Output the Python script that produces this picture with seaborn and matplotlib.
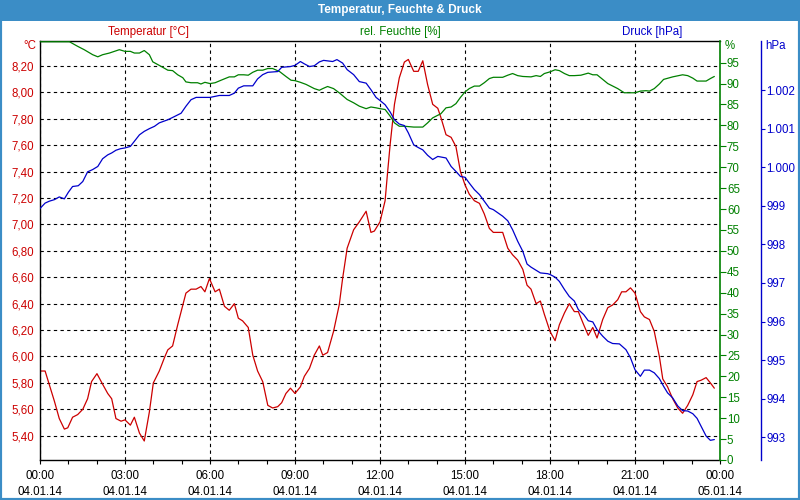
import numpy as np
import pandas as pd
import matplotlib
matplotlib.use("Agg")
import matplotlib.pyplot as plt
import seaborn as sns
from matplotlib.ticker import FixedLocator, FuncFormatter
from matplotlib.patches import Rectangle

# ---------------- data (hours since 04.01.14 00:00) ----------------
temp_t = [0.00, 0.18, 0.51, 0.68, 0.86, 0.98, 1.15, 1.33, 1.51, 1.68, 1.82, 2.01, 2.21, 2.39, 2.53, 2.68,
          2.86, 3.00, 3.19, 3.33, 3.51, 3.68, 3.86, 4.00, 4.21, 4.39, 4.51, 4.68, 4.86, 5.15, 5.33, 5.51,
          5.68, 5.82, 5.98, 6.18, 6.33, 6.51, 6.68, 6.86, 7.00, 7.15, 7.35, 7.51, 7.68, 7.86, 8.04, 8.21,
          8.39, 8.53, 8.68, 8.84, 9.00, 9.19, 9.33, 9.51, 9.68, 9.86, 9.98, 10.15, 10.36, 10.56, 10.68,
          10.84, 11.07, 11.27, 11.51, 11.68, 11.80, 12.00, 12.18, 12.27, 12.36, 12.51, 12.68, 12.86, 13.00,
          13.19, 13.35, 13.51, 13.68, 13.86, 14.04, 14.15, 14.33, 14.51, 14.68, 14.84, 15.00, 15.15, 15.33,
          15.51, 15.68, 15.86, 16.00, 16.33, 16.51, 16.68, 16.86, 17.04, 17.19, 17.33, 17.51, 17.66, 17.80,
          18.00, 18.18, 18.33, 18.51, 18.68, 18.86, 19.00, 19.19, 19.35, 19.51, 19.66, 19.86, 20.04, 20.21,
          20.39, 20.53, 20.68, 20.84, 21.00, 21.19, 21.33, 21.51, 21.68, 21.86, 21.98, 22.15, 22.33, 22.51,
          22.68, 22.86, 23.04, 23.19, 23.33, 23.51, 23.66, 23.80]
temp_v = [5.89, 5.89, 5.66, 5.53, 5.45, 5.46, 5.54, 5.56, 5.60, 5.68, 5.81, 5.87, 5.79, 5.72, 5.68, 5.53,
          5.51, 5.52, 5.48, 5.54, 5.42, 5.36, 5.58, 5.80, 5.89, 5.99, 6.05, 6.08, 6.24, 6.48, 6.51, 6.51,
          6.53, 6.49, 6.59, 6.49, 6.51, 6.38, 6.35, 6.40, 6.29, 6.27, 6.22, 6.01, 5.89, 5.81, 5.63, 5.61,
          5.62, 5.65, 5.72, 5.76, 5.72, 5.77, 5.85, 5.91, 6.01, 6.08, 6.01, 6.03, 6.19, 6.39, 6.59,
          6.82, 6.96, 7.02, 7.10, 6.94, 6.95, 7.02, 7.18, 7.40, 7.61, 7.91, 8.11, 8.23, 8.25,
          8.16, 8.16, 8.24, 8.06, 7.91, 7.88, 7.81, 7.68, 7.66, 7.59, 7.40, 7.30, 7.23, 7.18,
          7.16, 7.08, 6.97, 6.94, 6.94, 6.82, 6.77, 6.73, 6.66, 6.54, 6.51, 6.40, 6.42, 6.32,
          6.19, 6.12, 6.24, 6.33, 6.40, 6.34, 6.34, 6.24, 6.16, 6.22, 6.14, 6.28, 6.37, 6.39,
          6.43, 6.49, 6.49, 6.52, 6.48, 6.34, 6.30, 6.28, 6.19, 6.00, 5.83, 5.77, 5.68, 5.61,
          5.57, 5.63, 5.71, 5.81, 5.82, 5.84, 5.80, 5.76]

hum_t = [0.00, 1.04, 1.33, 1.56, 1.86, 2.04, 2.21, 2.45, 2.80, 3.00, 3.19, 3.33, 3.51, 3.68, 3.86, 3.98,
         4.33, 4.51, 4.68, 4.86, 5.04, 5.15, 5.33, 5.56, 5.68, 5.82, 6.00, 6.18, 6.39, 6.68, 6.86, 7.00,
         7.19, 7.35, 7.51, 7.68, 7.86, 8.04, 8.21, 8.45, 8.68, 8.86, 9.00, 9.19, 9.39, 9.68, 9.86, 9.98,
         10.15, 10.36, 10.56, 10.84, 11.07, 11.27, 11.51, 11.68, 11.86, 12.00, 12.18, 12.36, 12.51, 12.68,
         12.86, 13.19, 13.51, 13.68, 13.86, 14.15, 14.33, 14.51, 14.68, 14.84, 15.00, 15.15, 15.33, 15.51,
         15.68, 15.86, 16.00, 16.33, 16.51, 16.68, 16.86, 17.04, 17.33, 17.51, 17.66, 17.80, 18.00, 18.18,
         18.33, 18.51, 18.68, 18.86, 19.09, 19.35, 19.51, 19.66, 19.86, 20.04, 20.39, 20.62, 21.00, 21.19,
         21.39, 21.51, 21.68, 21.86, 22.01, 22.33, 22.68, 22.86, 23.04, 23.19, 23.51, 23.66, 23.80]
hum_v = [100.0, 100.0, 98.9, 98.1, 96.9, 96.4, 96.9, 97.3, 98.1, 97.7, 97.7, 97.3, 97.3, 97.9, 96.9, 95.2,
         93.9, 93.2, 93.1, 92.1, 91.4, 90.4, 90.2, 90.2, 89.9, 90.3, 90.0, 90.2, 90.8, 91.6, 91.6, 92.1,
         92.1, 92.0, 92.7, 93.2, 93.2, 93.6, 93.6, 92.9, 91.7, 90.8, 90.7, 90.3, 89.8, 88.8, 88.4, 88.8,
         89.3, 88.8, 87.8, 86.2, 85.4, 84.6, 84.0, 84.4, 84.2, 84.0, 83.8, 82.2, 80.6, 79.8,
         79.8, 79.6, 79.6, 80.6, 81.8, 82.8, 84.2, 84.4, 85.2, 86.7, 88.0, 88.8, 89.4, 89.4,
         90.2, 91.2, 91.5, 91.5, 92.0, 92.4, 91.9, 91.7, 91.6, 91.9, 91.7, 92.4, 92.8, 93.3,
         93.1, 92.4, 91.9, 91.9, 92.0, 92.5, 92.1, 92.1, 91.0, 90.0, 88.8, 87.8, 87.8, 88.2,
         88.3, 88.2, 88.8, 89.9, 91.0, 91.6, 92.1, 91.9, 91.3, 90.6, 90.6, 91.2, 91.7]

pres_t = [0.00, 0.18, 0.33, 0.51, 0.68, 0.86, 1.00, 1.15, 1.35, 1.51, 1.68, 1.86, 2.04, 2.21, 2.39, 2.53,
          2.68, 2.84, 3.00, 3.19, 3.33, 3.51, 3.68, 3.86, 4.04, 4.21, 4.51, 4.68, 4.98, 5.15, 5.33, 5.51,
          6.00, 6.33, 6.68, 6.86, 7.00, 7.19, 7.51, 7.68, 7.86, 8.04, 8.39, 8.53, 8.84, 9.00, 9.19, 9.33,
          9.51, 9.68, 9.86, 10.01, 10.33, 10.48, 10.68, 10.84, 11.07, 11.27, 11.51, 11.68, 11.86, 12.00,
          12.18, 12.36, 12.51, 12.68, 12.86, 13.00, 13.19, 13.35, 13.51, 13.68, 13.86, 14.04, 14.33, 14.51,
          14.68, 14.84, 15.00, 15.15, 15.33, 15.51, 15.68, 15.86, 16.00, 16.33, 16.51, 16.68, 16.86, 17.04,
          17.19, 17.33, 17.51, 17.66, 17.92, 18.00, 18.18, 18.33, 18.51, 18.68, 18.86, 19.00, 19.19, 19.35,
          19.51, 19.66, 19.86, 20.04, 20.21, 20.45, 20.68, 20.84, 21.00, 21.19, 21.33, 21.51, 21.68, 21.86,
          22.01, 22.15, 22.33, 22.51, 22.68, 22.86, 23.04, 23.19, 23.33, 23.51, 23.66, 23.80]
pres_v = [998.93, 999.07, 999.12, 999.16, 999.23, 999.18, 999.35, 999.50, 999.52, 999.63, 999.88, 999.94,
          1000.02, 1000.22, 1000.32, 1000.37, 1000.44, 1000.48, 1000.50, 1000.54, 1000.67, 1000.84, 1000.93,
          1001.00, 1001.06, 1001.15, 1001.23, 1001.29, 1001.40, 1001.58, 1001.75, 1001.81, 1001.81, 1001.86,
          1001.86, 1001.92, 1002.05, 1002.11, 1002.11, 1002.29, 1002.40, 1002.46, 1002.48, 1002.59, 1002.61,
          1002.64, 1002.74, 1002.68, 1002.61, 1002.63, 1002.73, 1002.77, 1002.74, 1002.79, 1002.70, 1002.53,
          1002.40, 1002.22, 1002.18, 1002.01, 1001.81, 1001.73, 1001.62, 1001.43, 1001.23, 1001.12, 1001.08,
          1000.89, 1000.58, 1000.51, 1000.45, 1000.31, 1000.20, 1000.28, 1000.24, 1000.02, 999.89, 999.76,
          999.74, 999.59, 999.42, 999.29, 999.12, 998.94, 998.90, 998.73, 998.61, 998.38, 998.08, 997.82,
          997.49, 997.41, 997.33, 997.26, 997.24, 997.22, 997.15, 997.04, 996.83, 996.65, 996.53, 996.31,
          996.18, 996.02, 995.99, 995.79, 995.62, 995.49, 995.43, 995.42, 995.27, 995.06, 994.75, 994.58,
          994.74, 994.74, 994.67, 994.52, 994.32, 994.15, 994.02, 993.81, 993.69, 993.68, 993.61, 993.49,
          993.29, 993.03, 992.92, 992.94]

x_ticks = [0, 3, 6, 9, 12, 15, 18, 21, 24]
x_labels = ["00:00\n04.01.14", "03:00\n04.01.14", "06:00\n04.01.14", "09:00\n04.01.14",
            "12:00\n04.01.14", "15:00\n04.01.14", "18:00\n04.01.14", "21:00\n04.01.14",
            "00:00\n05.01.14"]
temp_ticks = [5.4, 5.6, 5.8, 6.0, 6.2, 6.4, 6.6, 6.8, 7.0, 7.2, 7.4, 7.6, 7.8, 8.0, 8.2]
hum_ticks = list(range(0, 100, 5))
pres_ticks = [993, 994, 995, 996, 997, 998, 999, 1000, 1001, 1002]

title = "Temperatur, Feuchte & Druck"
lbl_temp = "Temperatur [°C]"
lbl_hum = "rel. Feuchte [%]"
lbl_pres = "Druck [hPa]"

# ---------------- styling ----------------
sns.set_theme(style="white")
plt.rcParams['font.family'] = ['Liberation Sans', 'DejaVu Sans']

RED = '#cc0000'
GREEN = '#008000'
BLUE = '#0000cc'
FRAME = '#3b8dc6'
FS = 8.3

df_t = pd.DataFrame({"t": temp_t, "v": temp_v})
df_h = pd.DataFrame({"t": hum_t, "v": hum_v})
df_p = pd.DataFrame({"t": pres_t, "v": pres_v})

fig = plt.figure(figsize=(8, 5), dpi=100)
fig.patch.set_facecolor('white')
ax = fig.add_axes([0.05, 0.08, 0.85, 0.8386])
ax.set_facecolor('white')
ax_h = ax.twinx()
ax_p = ax.twinx()

sns.lineplot(data=df_p, x="t", y="v", ax=ax_p, color=BLUE, lw=0.9, estimator=None)
sns.lineplot(data=df_h, x="t", y="v", ax=ax_h, color=GREEN, lw=0.9, estimator=None)
sns.lineplot(data=df_t, x="t", y="v", ax=ax, color=RED, lw=0.9, estimator=None)
for a in (ax, ax_h, ax_p):
    a.set_xlabel("")
    a.set_ylabel("")

# x axis
ax.set_xlim(0, 24)
ax.xaxis.set_major_locator(FixedLocator(x_ticks))
ax.set_xticklabels(x_labels, fontsize=FS, linespacing=1.5)
ax.xaxis.set_minor_locator(FixedLocator(list(range(0, 25))))
ax.tick_params(axis='x', which='both', bottom=True, direction='out', length=3, width=0.8,
               color='black', pad=4, labelcolor='black')

# temperature axis
ax.set_ylim(5.216, 8.392)
ax.yaxis.set_major_locator(FixedLocator(temp_ticks))
ax.yaxis.set_major_formatter(FuncFormatter(lambda v, p: f"{v:.2f}".replace(".", ",")))
ax.tick_params(axis='y', which='both', left=True, length=0, pad=4, labelsize=FS, labelcolor=RED)
ax.grid(True, which='major', color='black', linestyle=(0, (3, 3)), lw=0.8)
for s in ('left', 'top', 'bottom'):
    ax.spines[s].set_color('black')
    ax.spines[s].set_linewidth(1.0)
ax.spines['right'].set_visible(False)

# humidity axis
ax_h.set_ylim(0, 100.25)
ax_h.yaxis.set_major_locator(FixedLocator(hum_ticks))
ax_h.yaxis.set_major_formatter(FuncFormatter(lambda v, p: f"{int(round(v))}"))
ax_h.tick_params(axis='y', right=True, direction='out', length=4, width=0.8, color=GREEN,
                 labelcolor=GREEN, labelsize=FS, pad=1)
for s in ('left', 'top', 'bottom'):
    ax_h.spines[s].set_visible(False)
ax_h.spines['right'].set_color(GREEN)
ax_h.spines['right'].set_linewidth(1.2)

# pressure axis
ax_p.set_ylim(992.41, 1003.28)
ax_p.spines['right'].set_position(('axes', 1.0603))
ax_p.yaxis.set_major_locator(FixedLocator(pres_ticks))
ax_p.yaxis.set_major_formatter(FuncFormatter(lambda v, p: f"{int(round(v)):,}".replace(",", ".")))
ax_p.tick_params(axis='y', right=True, direction='out', length=3, width=0.8, color=BLUE,
                 labelcolor=BLUE, labelsize=FS, pad=1)
for s in ('left', 'top', 'bottom'):
    ax_p.spines[s].set_visible(False)
ax_p.spines['right'].set_color(BLUE)
ax_p.spines['right'].set_linewidth(1.0)

# header texts
H = 500.0
W = 800.0
fig.text(148 / W, 1 - 32 / H, lbl_temp, color=RED, fontsize=FS, ha='center', va='center')
fig.text(400 / W, 1 - 32 / H, lbl_hum, color=GREEN, fontsize=FS, ha='center', va='center')
fig.text(652 / W, 1 - 32 / H, lbl_pres, color=BLUE, fontsize=FS, ha='center', va='center')
fig.text(36 / W, 1 - 46 / H, "°C", color=RED, fontsize=FS, ha='right', va='center')
fig.text(725 / W, 1 - 46 / H, "%", color=GREEN, fontsize=FS, ha='left', va='center')
fig.text(765 / W, 1 - 46 / H, "hPa", color=BLUE, fontsize=FS, ha='left', va='center')

# title bar and frame
fig.patches.append(Rectangle((0, 1 - 21 / H), 1, 21 / H, transform=fig.transFigure,
                             facecolor=FRAME, edgecolor='none', zorder=0))
fig.patches.append(Rectangle((0, 0), 1, 1, transform=fig.transFigure, fill=False,
                             edgecolor=FRAME, lw=3, zorder=5))
fig.text(0.5, 1 - 10.5 / H, title, color='white', fontsize=8.5, fontweight='bold',
         ha='center', va='center')

fig.savefig("out.png", dpi=100)
